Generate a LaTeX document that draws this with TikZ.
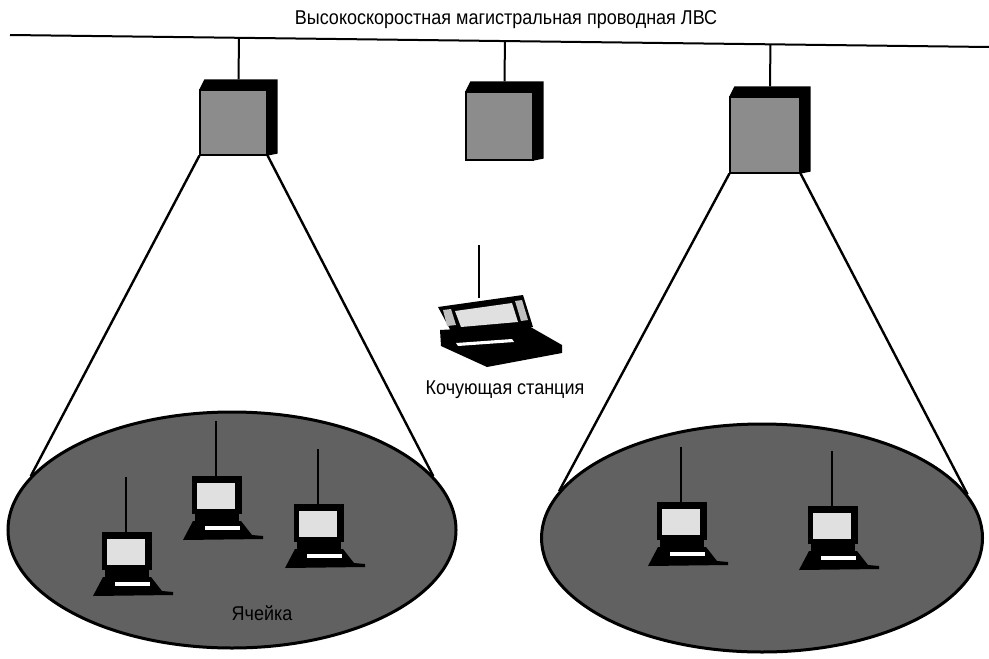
\documentclass[tikz,border=0pt]{standalone}
\usepackage{fontspec}
\setmainfont{Liberation Sans}[FakeStretch=0.9]
\usetikzlibrary{shapes.geometric,calc}

\tikzset{
  cell/.style={ellipse, draw, line width=1.5pt, fill=black!62, inner sep=0pt},
  apbox/.style={rectangle, draw, line width=0.6pt, fill=black!45, inner sep=0pt},
  cone/.style={line width=1.2pt},
  wire/.style={line width=1pt},
  caption/.style={inner sep=0pt, font=\fontsize{10}{12}\selectfont},
  pics/desktop/.style={code={
    \draw[line width=0.9pt] (-1,-18) -- (-1,-74);
    \fill (-25,-19) rectangle (25,19);
    \fill[black!12] (-20,-12) rectangle (18,14);
    \fill (-22,18) rectangle (22,27);
    \fill (-24,26) -- (24,26) -- (35,40) -- (46,41) -- (46,44) -- (-34,45) -- cycle;
    \fill[white] (-12,31) rectangle (23,35);
  }}
}

\begin{document}
\begin{tikzpicture}[x=0.5pt,y=-0.5pt]
\useasboundingbox (0,0) rectangle (989,658);

% backbone
\coordinate (lanL) at (10,35);
\coordinate (lanR) at (989,47);
\draw[wire] (lanL) -- (lanR);
\node[caption] (lanlabel) at (506,20) {Высокоскоростная магистральная проводная ЛВС};

% access points
\node[apbox, minimum width=33.5pt, minimum height=32.5pt] (ap1) at (233.5,122.5) {};
\node[apbox, minimum width=33.5pt, minimum height=34pt] (ap2) at (499.5,126) {};
\node[apbox, minimum width=35pt, minimum height=38pt] (ap3) at (765,135) {};

\foreach \n in {1,2,3} {
  \fill (ap\n.north west) -- ++(5,-10) -- ($(ap\n.north east)+(10,-10)$)
    -- ($(ap\n.south east)+(10,-2)$) -- (ap\n.south east) -- (ap\n.north east) -- cycle;
  \coordinate (ap\n top) at ($(ap\n.north)+(5,-10)$);
  \draw[wire] (ap\n top) -- ($(lanL)!(ap\n top)!(lanR)$);
}

% cells
\node[cell, minimum width=224pt, minimum height=118pt] (cell1) at (232,530) {};
\node[cell, minimum width=220.5pt, minimum height=114pt] (cell2) at (762,538) {};

\draw[cone] (ap1.south west) -- (cell1.165);
\draw[cone] (ap1.south east) -- (cell1.15);
\draw[cone] (ap3.south west) -- (cell2.167);
\draw[cone] (ap3.south east) -- (cell2.12);

% stations
\pic (pc1) at (127,551) {desktop};
\pic (pc2) at (217,495) {desktop};
\pic (pc3) at (319,523) {desktop};
\pic (pc4) at (682,521) {desktop};
\pic (pc5) at (833,525) {desktop};

\node[caption] (celllabel) at (262,613) {Ячейка};

% roaming laptop
\coordinate (roamer) at (479,298);
\draw[line width=0.9pt] (roamer) -- ++(0,-53);
\fill (438,307) -- (523,295) -- (533,327) -- (452,333) -- cycle;
\fill[black!12] (455,311) -- (512,303) -- (518,322) -- (461,327) -- cycle;
\fill[black!25] (443,310) -- (451,309) -- (456,325) -- (447,326) -- cycle;
\fill[black!25] (515,301) -- (522,300) -- (528,320) -- (521,321) -- cycle;
\fill (440,330) -- (527,325) -- (562,345) -- (562,353) -- (487,367) -- (441,346) -- cycle;
\fill[white] (456,343) -- (512,339) -- (514,342) -- (458,346) -- cycle;
\node[caption] (roamlabel) at (505,390) {Кочующая станция};

\end{tikzpicture}
\end{document}
